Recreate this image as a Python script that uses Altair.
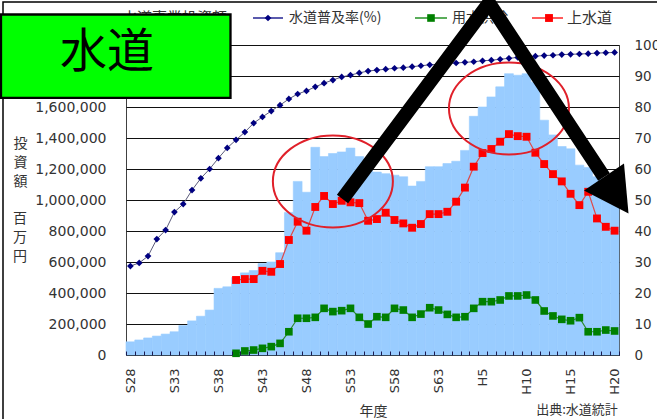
import json
import altair as alt
import pandas as pd

# 年度 (昭和28年度～平成20年度)
cats = ["S28", "S29", "S30", "S31", "S32", "S33", "S34", "S35", "S36", "S37",
        "S38", "S39", "S40", "S41", "S42", "S43", "S44", "S45", "S46", "S47",
        "S48", "S49", "S50", "S51", "S52", "S53", "S54", "S55", "S56", "S57",
        "S58", "S59", "S60", "S61", "S62", "S63",
        "H1", "H2", "H3", "H4", "H5", "H6", "H7", "H8", "H9", "H10",
        "H11", "H12", "H13", "H14", "H15", "H16", "H17", "H18", "H19", "H20"]
shown_ticks = ["S28", "S33", "S38", "S43", "S48", "S53", "S58", "S63",
               "H5", "H10", "H15", "H20"]

# 水道事業投資額 (百万円)
invest = [85000, 97000, 110000, 122000, 135000, 150000, 190000, 220000, 250000, 290000,
          430000, 440000, 500000, 530000, 545000, 590000, 600000, 660000, 920000, 1120000,
          1050000, 1340000, 1280000, 1300000, 1310000, 1335000, 1280000, 1210000, 1180000, 1170000,
          1160000, 1150000, 1090000, 1120000, 1215000, 1215000, 1235000, 1250000, 1320000, 1540000,
          1600000, 1665000, 1730000, 1815000, 1805000, 1815000, 1760000, 1515000, 1420000, 1345000,
          1330000, 1225000, 1210000, 1150000, 1100000, 1090000]

# 上水道・用水供給 (S40年度から)
line_cats = cats[12:]
josui = [484000, 490000, 490000, 543000, 537000, 587000, 742000, 860000, 802000, 955000,
         1026000, 974000, 995000, 985000, 980000, 866000, 877000, 918000, 871000, 849000,
         821000, 845000, 909000, 909000, 924000, 989000, 1080000, 1215000, 1303000, 1329000,
         1376000, 1425000, 1412000, 1408000, 1305000, 1232000, 1167000, 1120000, 1040000, 967000,
         1053000, 881000, 827000, 802000]
yosui = [11000, 26000, 32000, 43000, 54000, 75000, 150000, 237000, 237000, 243000,
         301000, 280000, 286000, 301000, 243000, 200000, 247000, 243000, 301000, 290000,
         243000, 264000, 305000, 290000, 262000, 243000, 247000, 301000, 344000, 344000,
         355000, 381000, 381000, 387000, 355000, 284000, 252000, 230000, 221000, 241000,
         150000, 150000, 161000, 155000]

# 水道普及率 (%)
fukyu = [28.7, 29.7, 31.9, 37.4, 40.3, 46.1, 48.7, 53.2, 57.0, 60.0,
         63.5, 66.8, 69.4, 71.9, 74.8, 76.8, 78.7, 80.6, 82.6, 84.2,
         85.2, 86.5, 87.7, 88.7, 89.7, 90.3, 91.0, 91.6, 91.9, 92.2,
         92.5, 92.7, 93.0, 93.3, 93.6, 93.8, 94.0, 94.2, 94.4, 94.6,
         94.9, 95.1, 95.4, 95.7, 96.0, 96.2, 96.4, 96.6, 96.7, 96.9,
         97.0, 97.1, 97.2, 97.4, 97.5, 97.6]

# 強調の楕円 (年度, 投資額)
ell_cats = ["S51", "H8"]
ell_vals = [1120000, 1590000]

df_inv = pd.DataFrame({"年度": cats, "金額": invest})
df_red = pd.DataFrame({"年度": line_cats, "金額": josui})
df_green = pd.DataFrame({"年度": line_cats, "金額": yosui})
df_cov = pd.DataFrame({"年度": cats, "普及率": fukyu})
df_ell = pd.DataFrame({"年度": ell_cats, "金額": ell_vals})
one = pd.DataFrame({"k": [0]})

W, H = 493, 310
JP = "Noto Sans CJK JP"
NUM = "DejaVu Sans"
TXT = "#333333"

x_axis = alt.Axis(
    title="年度", titleFont=JP, titleFontSize=14, titleFontWeight="normal",
    titleColor=TXT, titleX=247, titleY=60, titleAlign="center", titleBaseline="middle",
    labelAngle=270, labelAlign="right", labelBaseline="middle",
    labelExpr="indexof(" + json.dumps(shown_ticks) + ", datum.value) >= 0 ? datum.value : ''",
    labelFont=NUM, labelFontSize=13, labelColor=TXT, labelPadding=13,
    labelOverlap=False, labelFlush=False, labelBound=False,
    domain=False, grid=False, ticks=True, tickBand="extent", tickSize=4,
    tickColor="#1a1a50", tickWidth=1, offset=-4, zindex=1,
)
x_enc = alt.X("年度:N", sort=cats,
              scale=alt.Scale(type="band", domain=cats, paddingInner=0, paddingOuter=0),
              axis=x_axis)

y_left_scale = alt.Scale(domain=[0, 2000000], nice=False, zero=True)
y_left_axis = alt.Axis(
    title=["投", "資", "額"], titleAngle=0,
    titleX=-106, titleY=91, titleAlign="center", titleBaseline="top",
    titleLineHeight=19, titleFont=JP, titleFontSize=14, titleFontWeight="normal",
    titleColor=TXT,
    values=list(range(0, 2000001, 200000)), format=",d",
    labelFont=NUM, labelFontSize=14, labelColor=TXT, labelPadding=20,
    ticks=False, domain=False, grid=True, gridColor="#111111", gridWidth=1,
)
y_left = alt.Y("金額:Q", scale=y_left_scale, axis=y_left_axis)

bars = alt.Chart(df_inv).mark_bar(
    color="#99CCFF", opacity=1, stroke="#99CCFF", strokeWidth=0.6
).encode(x=x_enc, y=y_left)

red = alt.Chart(df_red).mark_line(
    color="#E04848", strokeWidth=1.2,
    point=alt.OverlayMarkDef(shape="square", size=62, filled=True, color="#FF0000", opacity=1),
).encode(x=x_enc, y=y_left)

green = alt.Chart(df_green).mark_line(
    color="#2E8B2E", strokeWidth=1.2,
    point=alt.OverlayMarkDef(shape="square", size=58, filled=True, color="#008000", opacity=1),
).encode(x=x_enc, y=y_left)

ELLIPSE = "M -60 0 A 60 46 0 1 1 60 0 A 60 46 0 1 1 -60 0 Z"
ellipses = alt.Chart(df_ell).mark_point(
    shape=ELLIPSE, size=4, filled=False, color="#E0202A", strokeWidth=2, opacity=1
).encode(x=x_enc, y=y_left)

left = alt.layer(bars, red, green, ellipses)

cov = alt.Chart(df_cov).mark_line(
    color="#5A5A7A", strokeWidth=1,
    point=alt.OverlayMarkDef(shape="diamond", size=45, filled=True, color="#000080", opacity=1),
).encode(
    x=x_enc,
    y=alt.Y("普及率:Q", scale=alt.Scale(domain=[0, 100], nice=False),
            axis=alt.Axis(orient="right", title=None, values=list(range(0, 101, 10)),
                          labelFont=NUM, labelFontSize=13.5, labelColor=TXT,
                          labelPadding=15, ticks=False, domain=False, grid=False)),
)


def rule(x1, x2, y, color, width=1.3):
    return alt.Chart(one).mark_rule(color=color, strokeWidth=width).encode(
        x=alt.value(x1), x2=alt.value(x2), y=alt.value(y))


def marker(x, y, shape, color, size):
    return alt.Chart(one).mark_point(shape=shape, size=size, filled=True,
                                     color=color, opacity=1).encode(
        x=alt.value(x), y=alt.value(y))


def label(x, y, text, size=14, color=TXT, align="left", font=JP, baseline="middle",
          line_height=19):
    return alt.Chart(one).mark_text(text=text, font=font, fontSize=size, color=color,
                                    align=align, baseline=baseline,
                                    lineHeight=line_height).encode(
        x=alt.value(x), y=alt.value(y))


# 縦書きの単位表記
unit = label(-106, 167, ["百", "万", "円"], size=14, align="center", baseline="top")

LY = -27
legend = [
    marker(-18, LY, "square", "#99CCFF", 60),
    label(-4, LY, "水道事業投資額", size=15),
    rule(127, 157, LY, "#000080"),
    marker(142, LY, "diamond", "#000080", 45),
    label(163, LY, "水道普及率(%)"),
    rule(289, 321, LY, "#008000"),
    marker(305, LY, "square", "#008000", 58),
    label(326, LY, "用水供給"),
    rule(406, 437, LY, "#FF0000"),
    marker(423, LY, "square", "#FF0000", 62),
    label(441, LY, "上水道", size=15),
]

frame = alt.Chart(one).mark_rect(filled=False, stroke="#000000", strokeWidth=1.5).encode(
    x=alt.value(-123), x2=alt.value(700), y=alt.value(-43), y2=alt.value(500))

box = alt.Chart(one).mark_rect(fill="#00FF00", stroke="#000000", strokeWidth=2.3).encode(
    x=alt.value(-125), x2=alt.value(104.5), y=alt.value(-30.5), y2=alt.value(52.8))
box_text = label(-19, 8, "水道", size=47, color="#000000", align="center")

ARROW_LEGS = "M 216.5 154 L 363 -42 L 478 132"
ARROW_HEAD = "M 498 118.6 L 502.5 168.5 L 458 145.4 Z"
legs = alt.Chart(one).mark_point(
    shape=ARROW_LEGS, size=4, filled=False, color="#000000", strokeWidth=14,
    strokeJoin="miter", strokeCap="butt", opacity=1
).encode(x=alt.value(0), y=alt.value(0))
head = alt.Chart(one).mark_point(
    shape=ARROW_HEAD, size=4, filled=True, color="#000000", opacity=1
).encode(x=alt.value(0), y=alt.value(0))

source = label(451, 365, "出典:水道統計", size=13, align="center")

chart = alt.layer(
    left, cov, frame, unit, *legend, box, box_text, legs, head, source
).resolve_scale(
    y="independent"
).properties(
    width=W, height=H,
    padding={"left": 126, "top": 45, "right": 38, "bottom": 64},
    autosize=alt.AutoSizeParams(type="none"),
    background="#FFFFFF",
).configure_view(
    stroke="#404040", strokeWidth=1
)

chart.save("out.html", embed_options={"renderer": "svg", "actions": False})
